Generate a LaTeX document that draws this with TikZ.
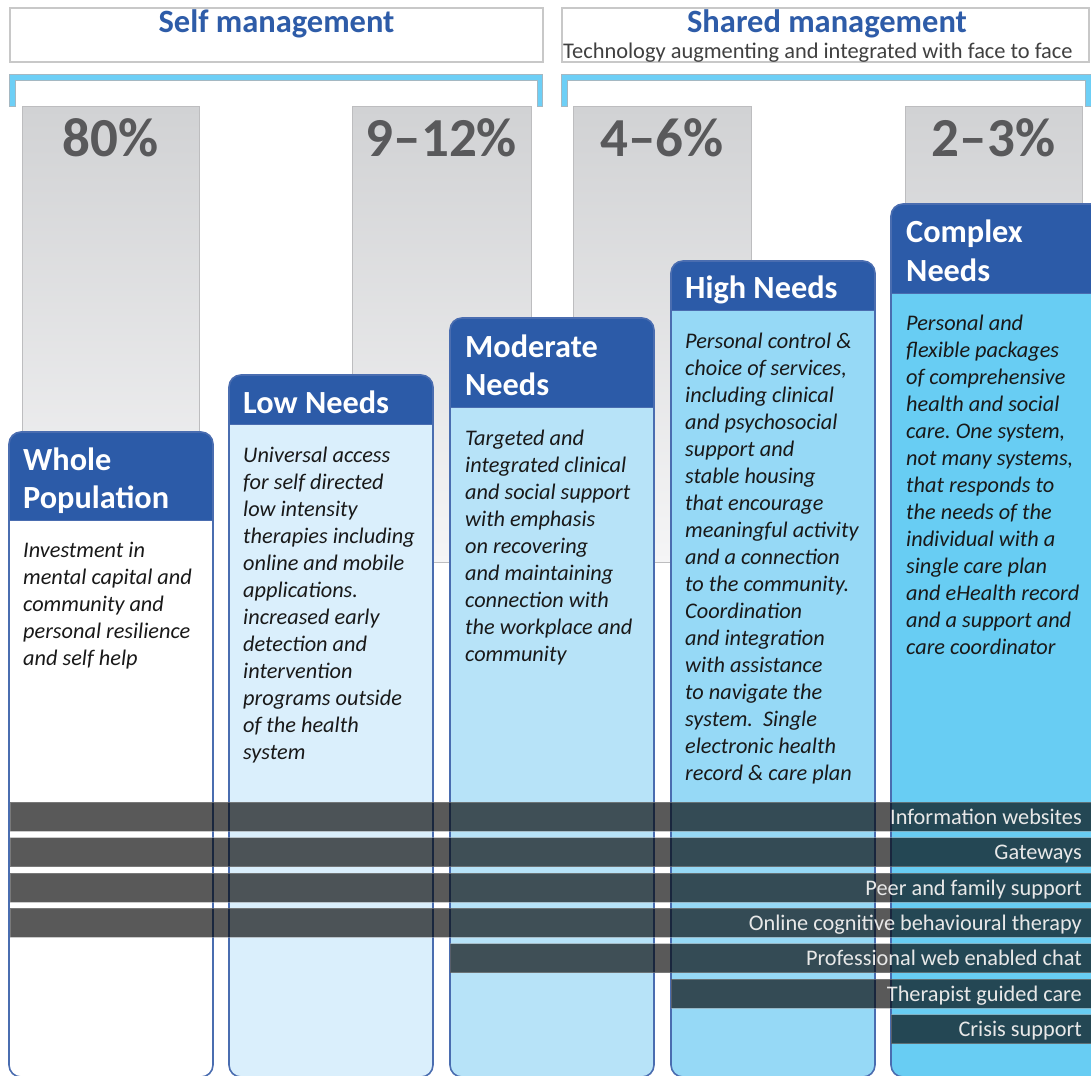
\documentclass[tikz,border=0pt]{standalone}
\usepackage{fontspec}
\setmainfont{Carlito}
\frenchspacing
\definecolor{hdrblue}{HTML}{2C5BA8}
\definecolor{boxline}{HTML}{4A6DB0}
\definecolor{titleblue}{HTML}{2E5CA8}
\definecolor{subgray}{HTML}{404040}
\definecolor{pctgray}{HTML}{59595B}
\definecolor{frame}{HTML}{C8C8C8}
\definecolor{brkblue}{HTML}{6DCFF6}
\definecolor{brkedge}{HTML}{A5B8C2}
\definecolor{coltop}{HTML}{D1D2D4}
\definecolor{colbot}{HTML}{F5F5F6}
\definecolor{colline}{HTML}{BDBDBF}
\definecolor{lowfill}{HTML}{DAEFFC}
\definecolor{modfill}{HTML}{B7E3F8}
\definecolor{highfill}{HTML}{96D9F6}
\definecolor{cpxfill}{HTML}{68CDF3}
\definecolor{bartxt}{HTML}{E8E8E8}
% a block of lines whose reference point is the first baseline
\newcommand\stacked[1]{\parbox[t]{260pt}{\raggedright #1}}
% a needs box: left, right, top, header bottom, body fill
\newcommand\needbox[5]{%
  \fill[#5, rounded corners=12] (#1,#3) rectangle (#2,1077);
  \begin{scope}
    \clip[rounded corners=12] (#1,#3) rectangle (#2,1077);
    \fill[hdrblue] (#1,#3) rectangle (#2,#4);
  \end{scope}
  \draw[boxline, line width=1] (#1,#4) -- (#2,#4);
  \draw[boxline, line width=1.6, rounded corners=12] (#1,#3) rectangle (#2,1077);
}
\begin{document}
\begin{tikzpicture}[x=1pt, y=-1pt,
  hdrtext/.style={anchor=base west, inner sep=0, text=white,
    font=\fontsize{32.3}{38.5}\selectfont\bfseries},
  bodytext/.style={anchor=base west, inner sep=0, text=black!90,
    font=\fontsize{22.3}{27}\selectfont\itshape},
  pct/.style={anchor=base, inner sep=0, text=pctgray,
    font=\fontsize{55}{55}\selectfont\bfseries},
  title/.style={anchor=base, inner sep=0, text=titleblue,
    font=\fontsize{32.5}{32.5}\selectfont\bfseries},
  bartext/.style={anchor=base east, inner sep=0, text=bartxt,
    font=\fontsize{22.3}{22.3}\selectfont},
  barfill/.style={fill=black, fill opacity=0.65, draw=black!40, draw opacity=0.5, line width=0.8},
  topframe/.style={draw=frame, line width=1.2, fill=white},
  column/.style={top color=coltop, bottom color=colbot, draw=colline, line width=1},
]
\useasboundingbox (0,0) rectangle (1091,1075);
\clip (0,0) rectangle (1091,1075);
\fill[white] (0,0) rectangle (1091,1075);

% heading frames
\draw[topframe] (10,8) rectangle (543,62);
\draw[topframe] (562,8) rectangle (1089,62);
\node[title] (self-t) at (276.5,33) {Self management};
\node[title] (shared-t) at (827,33) {Shared management};
\node[anchor=base west, inner sep=0, text=subgray, font=\fontsize{22.4}{22.4}\selectfont]
  (shared-s) at (563,59) {Technology augmenting and integrated with face to face};

% brackets
\draw[brkedge, line width=6.6] (12.5,107) -- (12.5,77.5) -- (540,77.5) -- (540,107);
\draw[brkblue, line width=4.6] (12.5,106.5) -- (12.5,77.5) -- (540,77.5) -- (540,106.5);
\draw[brkedge, line width=6.6] (564.5,107) -- (564.5,77.5) -- (1088.5,77.5) -- (1088.5,107);
\draw[brkblue, line width=4.6] (564.5,106.5) -- (564.5,77.5) -- (1088.5,77.5) -- (1088.5,106.5);

% percentage columns
\shade[column] (22,107) rectangle (199,562);
\shade[column] (352,107) rectangle (531,562);
\shade[column] (573,107) rectangle (751,562);
\shade[column] (905,107) rectangle (1082,562);
\node[pct] (p1) at (110.5,157) {80\%};
\node[pct] (p2) at (441.5,157) {9--12\%};
\node[pct] (p3) at (662,157) {4--6\%};
\node[pct] (p4) at (993.5,157) {2--3\%};

% needs boxes
\needbox{9}{213}{432}{520}{white}
\needbox{229}{433}{375}{424}{lowfill}
\needbox{450}{654}{318}{407}{modfill}
\needbox{671}{875}{261}{310}{highfill}
\needbox{891}{1104}{204}{293}{cpxfill}

\node[hdrtext] (whole-h) at (23,470) {\stacked{Whole\\Population}};
\node[hdrtext] (low-h) at (243,413) {\stacked{Low Needs}};
\node[hdrtext] (mod-h) at (465,357) {\stacked{Moderate\\Needs}};
\node[hdrtext] (high-h) at (685,298) {\stacked{High Needs}};
\node[hdrtext] (cpx-h) at (906,243) {\stacked{Complex\\Needs}};

\node[bodytext] (whole-b) at (23,557) {\stacked{Investment in\\mental capital and\\community and\\personal resilience\\and self help}};
\node[bodytext] (low-b) at (243,462) {\stacked{Universal access\\for self directed\\low intensity\\therapies including\\online and mobile\\applications.\\increased early\\detection and\\intervention\\programs outside\\of the health\\system}};
\node[bodytext] (mod-b) at (465,445) {\stacked{Targeted and\\integrated clinical\\and social support\\with emphasis\\on recovering\\and maintaining\\connection with\\the workplace and\\community}};
\node[bodytext] (high-b) at (685,348) {\stacked{Personal control \&\\choice of services,\\including clinical\\and psychosocial\\support and\\stable housing\\that encourage\\meaningful activity\\and a connection\\to the community.\\Coordination\\and integration\\with assistance\\to navigate the\\system.\ \ Single\\electronic health\\record \& care plan}};
\node[bodytext] (cpx-b) at (906,330) {\stacked{Personal and\\flexible packages\\of comprehensive\\health and social\\care. One system,\\not many systems,\\that responds to\\the needs of the\\individual with a\\single care plan\\and eHealth record\\and a support and\\care coordinator}};

% service bands
\foreach \n/\top/\left/\label in {
    1/802/10/Information websites,
    2/837.5/10/Gateways,
    3/873/10/Peer and family support,
    4/908/10/Online cognitive behavioural therapy,
    5/943.5/450/Professional web enabled chat,
    6/979/671/Therapist guided care,
    7/1014.5/891/Crisis support}{
  \path[barfill] (\left,\top) rectangle (1096,\top+29);
  \node[bartext] (band\n) at (1082,\top+22) {\label};
}
\end{tikzpicture}
\end{document}
